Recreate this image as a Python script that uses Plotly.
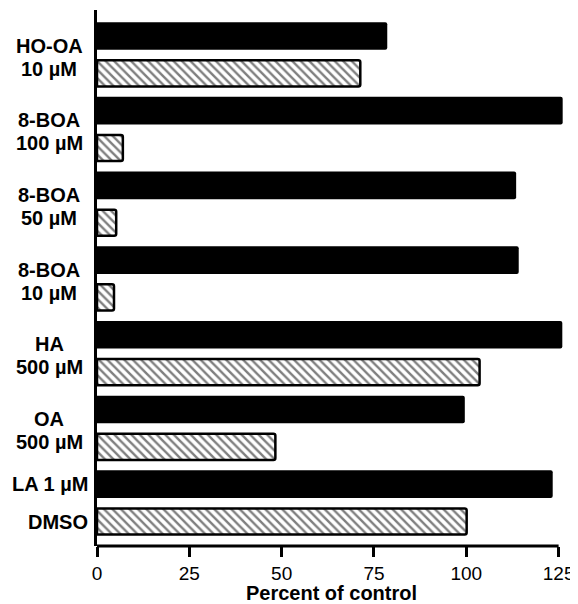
import plotly.graph_objects as go

# ---- data ----
group_names = ["HO-OA", "8-BOA", "8-BOA", "8-BOA", "HA", "OA"]
group_conc = ["10 µM", "100 µM", "50 µM", "10 µM", "500 µM", "500 µM"]
last_black_label = "LA 1 µM"
last_hatched_label = "DMSO"

black_values = [78.6, 126.1, 113.5, 114.2, 126.0, 99.6, 123.4]
hatched_values = [71.3, 7.0, 5.2, 4.6, 103.6, 48.3, 100.1]

x_ticks = [0, 25, 50, 75, 100, 125]

FONT = "Liberation Sans, Arial, sans-serif"

n = len(black_values)
black_pos = [2 * i for i in range(n)]
hatched_pos = [2 * i + 1 for i in range(n)]

fig = go.Figure()
fig.add_trace(go.Bar(
    x=black_values, y=black_pos, orientation="h", width=0.74,
    marker=dict(color="black", line=dict(color="black", width=0)),
    showlegend=False,
))
fig.add_trace(go.Bar(
    x=hatched_values, y=hatched_pos, orientation="h", width=0.7,
    marker=dict(color="white", line=dict(color="black", width=2.5),
                pattern=dict(shape="\\", fgcolor="black", bgcolor="white",
                             size=6, solidity=0.4)),
    showlegend=False,
))

# page body has an 8px margin; figure is 570x596 so it fits the 578x604 window
L, R, T, B = 89, 12, 2, 58
PW = 570 - L - R
annotations = []
LABEL_X = (41 - L) / PW
RIGHT_X = (82 - L) / PW
lab_font = dict(family=FONT, size=20, color="black", weight="bold")
for i, (g, c) in enumerate(zip(group_names, group_conc)):
    center = (black_pos[i] + hatched_pos[i]) / 2
    annotations.append(dict(text=g, x=LABEL_X, xref="paper", y=center, yref="y",
                            xanchor="center", yanchor="middle", yshift=9,
                            showarrow=False, font=lab_font))
    annotations.append(dict(text=c, x=LABEL_X, xref="paper", y=center, yref="y",
                            xanchor="center", yanchor="middle", yshift=-14,
                            showarrow=False, font=lab_font))
annotations.append(dict(text=last_black_label, x=RIGHT_X, xref="paper", y=black_pos[-1], yref="y",
                        xanchor="right", yanchor="middle", showarrow=False, font=lab_font))
annotations.append(dict(text=last_hatched_label, x=RIGHT_X, xref="paper", y=hatched_pos[-1], yref="y",
                        xanchor="right", yanchor="middle", showarrow=False, font=lab_font))

fig.update_layout(
    width=570, height=596,
    margin=dict(l=L, r=R, t=T, b=B, autoexpand=False),
    paper_bgcolor="white", plot_bgcolor="white",
    barmode="overlay",
    barcornerradius=2,
    annotations=annotations,
    shapes=[dict(type="line", xref="x", yref="paper", x0=0, x1=125, y0=0, y1=0,
                 line=dict(color="black", width=3))],
    xaxis=dict(range=[0, 127], tickvals=x_ticks, ticks="outside", ticklen=10,
               tickwidth=3, tickcolor="black", showline=False, showgrid=False,
               zeroline=False, automargin=False,
               tickfont=dict(family=FONT, size=19, color="black"),
               title=dict(text="Percent of control", standoff=2,
                          font=dict(family=FONT, size=20, color="black", weight="bold"))),
    yaxis=dict(range=[13.655, -0.695], showticklabels=False, ticks="",
               showline=True, linewidth=3, linecolor="black",
               showgrid=False, zeroline=False, automargin=False),
)

fig.write_html("out.html")
